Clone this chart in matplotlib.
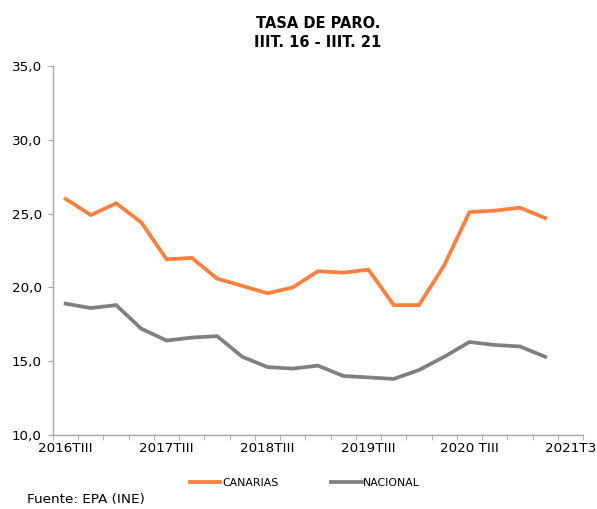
import numpy as np
import matplotlib
matplotlib.use("Agg")
import matplotlib.pyplot as plt
from matplotlib.lines import Line2D

quarters = ["2016TIII", "2016TIV", "2017TI", "2017TII", "2017TIII", "2017TIV",
            "2018TI", "2018TII", "2018TIII", "2018TIV", "2019TI", "2019TII",
            "2019TIII", "2019TIV", "2020TI", "2020TII", "2020 TIII", "2020TIV",
            "2021TI", "2021TII", "2021T3"]
tick_labels = ["2016TIII", "2017TIII", "2018TIII", "2019TIII", "2020 TIII", "2021T3"]

canarias = [26.0, 24.9, 25.7, 24.4, 21.9, 22.0, 20.6, 20.1, 19.6, 20.0,
            21.1, 21.0, 21.2, 18.8, 18.8, 21.5, 25.1, 25.2, 25.4, 24.7]
nacional = [18.9, 18.6, 18.8, 17.2, 16.4, 16.6, 16.7, 15.3, 14.6, 14.5,
            14.7, 14.0, 13.9, 13.8, 14.4, 15.3, 16.3, 16.1, 16.0, 15.3]

ORANGE = "#FF7F3F"
GREY = "#808080"
AXIS = "#A6A6A6"

plt.rcParams["font.family"] = ["DejaVu Sans"]

fig = plt.figure(figsize=(5.97, 5.09), dpi=100)
ax = fig.add_axes([53 / 597, 1 - 435 / 509, 530 / 597, 369 / 509])

x = np.arange(len(canarias))
ax.plot(x, canarias, color=ORANGE, lw=2.7, solid_joinstyle="miter")
ax.plot(x, nacional, color=GREY, lw=2.7, solid_joinstyle="miter")

ax.set_xlim(-0.5, len(quarters) - 0.5)
ax.set_ylim(10, 35)
ax.set_yticks(np.arange(10, 36, 5))
ax.set_yticklabels([f"{v:.1f}".replace(".", ",") for v in np.arange(10, 36, 5)], fontsize=9.7)

pos = [quarters.index(t) for t in tick_labels]
ax.set_xticks(pos)
ax.set_xticklabels(tick_labels, fontsize=9.7)
ax.tick_params(axis="x", which="major", length=0, pad=5)
ax.set_xticks(np.arange(-0.5, len(quarters), 1), minor=True)
ax.tick_params(axis="x", which="minor", length=3.5, color=AXIS, direction="out")
ax.tick_params(axis="y", length=3.5, color=AXIS, pad=4.5)

for s in ["top", "right"]:
    ax.spines[s].set_visible(False)
for s in ["left", "bottom"]:
    ax.spines[s].set_color(AXIS)
    ax.spines[s].set_linewidth(1.0)

ax.set_title("TASA DE PARO.\nIIIT. 16 - IIIT. 21", fontsize=10.5, fontweight="bold",
             pad=14, linespacing=1.3)

handles = [Line2D([], [], color=ORANGE, lw=2.7), Line2D([], [], color=GREY, lw=2.7)]
fig.legend(handles, ["CANARIAS", "NACIONAL"], loc="center", bbox_to_anchor=(305 / 597, 1 - 483 / 509),
           ncol=2, frameon=False, fontsize=7.8, handlelength=2.8, handletextpad=0.15,
           columnspacing=4.9)

fig.text(27 / 597, 1 - 500 / 509, "Fuente: EPA (INE)", fontsize=9.7, va="center")

fig.savefig("out.png", dpi=100)
